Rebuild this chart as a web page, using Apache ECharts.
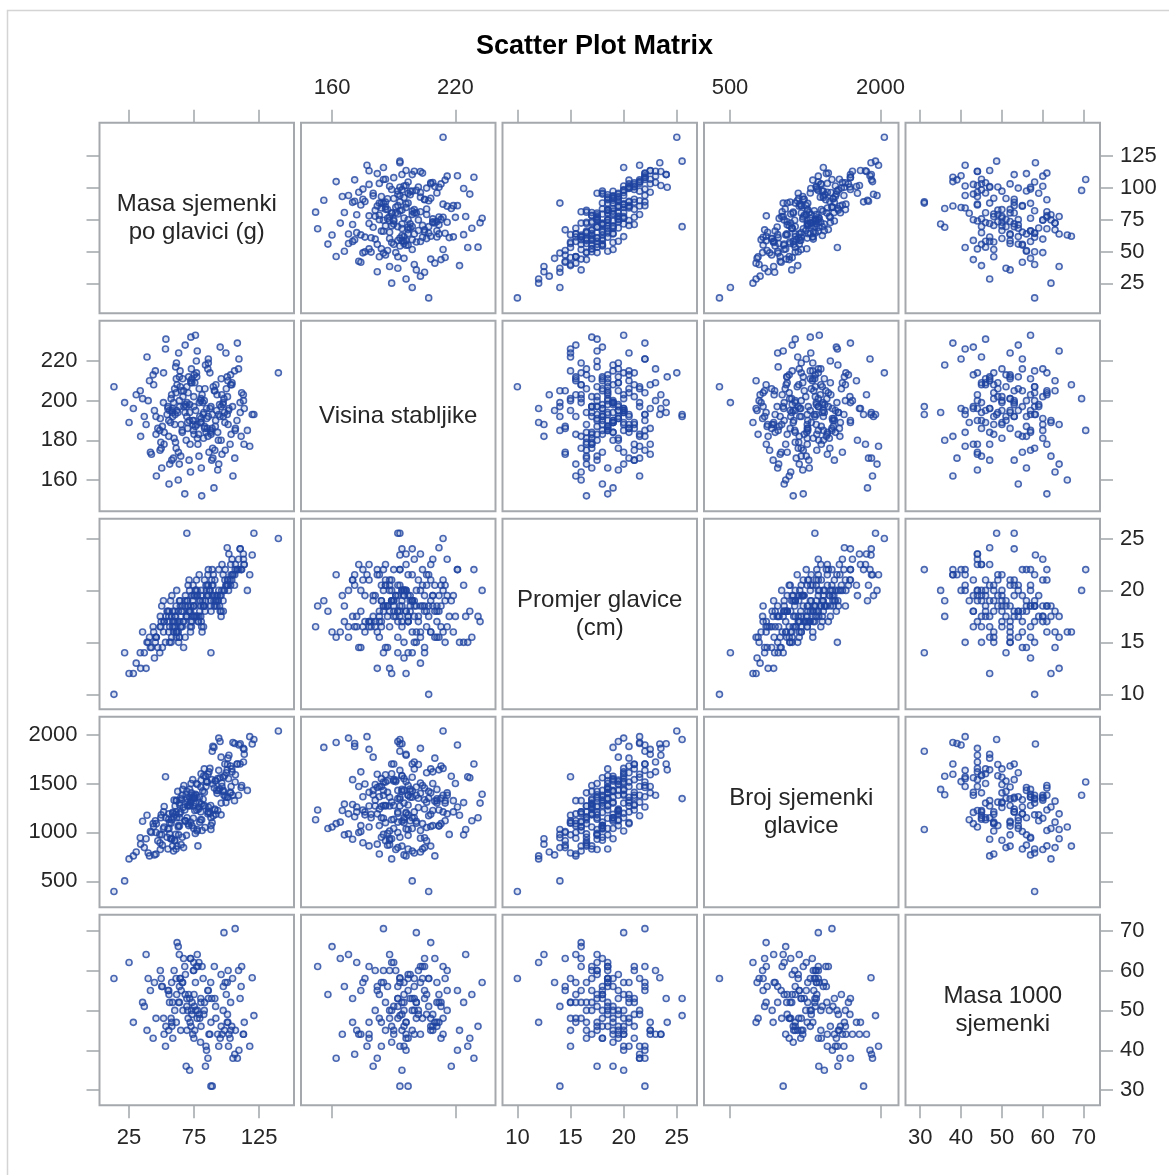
<!DOCTYPE html>
<html><head><meta charset="utf-8">
<script src="https://cdn.jsdelivr.net/npm/echarts@6/dist/echarts.min.js"></script>
<style>html,body{margin:0;padding:0;background:#fff}#c{width:1169px;height:1175px}</style>
</head><body><div id="c"></div>
<script>
// ---------- data (one observation per index) ----------
const varLabels = ["Masa sjemenki\npo glavici (g)", "Visina stabljike", "Promjer glavice\n(cm)", "Broj sjemenki\nglavice", "Masa 1000\nsjemenki"];

const masaSjemenki = [
13.5,21.7,25.1,34.0,28.4,41.5,30.6,38.2,45.3,36.8,
47.2,35.5,52.0,40.8,44.6,56.3,38.9,49.1,33.7,45.8,
55.0,42.3,51.6,60.2,46.1,39.8,53.4,48.7,58.5,44.0,
49.5,61.2,45.8,53.1,57.9,64.0,50.7,43.6,55.8,59.3,
63.8,52.1,58.7,48.9,67.0,55.6,61.5,50.2,57.4,65.1,
54.3,68.2,59.7,51.5,64.8,62.0,70.1,56.2,60.9,49.8,
66.5,57.0,72.3,61.4,54.9,69.0,63.2,58.6,74.5,60.1,
59.2,71.7,64.3,76.0,57.8,67.9,62.5,73.4,55.6,69.2,
74.8,61.3,69.5,58.0,72.6,66.0,79.1,63.7,70.9,60.5,
65.2,77.4,60.8,73.0,68.1,80.3,62.9,71.5,75.6,69.5,
78.5,66.3,74.9,63.0,81.2,70.1,76.8,61.7,72.0,83.4,
68.4,80.6,72.7,86.0,65.9,77.5,71.6,82.3,63.8,75.2,
83.0,70.5,78.8,67.2,85.6,74.0,80.9,64.5,76.3,88.1,
72.4,84.7,78.0,69.6,88.9,76.1,82.5,91.0,74.8,80.0,
87.3,75.0,83.8,71.2,90.6,79.4,85.1,73.5,93.2,81.7,
77.6,89.8,82.0,95.1,74.3,86.5,80.2,92.4,76.9,88.0,
92.7,80.4,88.6,77.1,95.8,84.2,90.3,79.0,97.5,86.0,
83.1,94.6,87.2,99.0,80.5,91.8,85.7,88.0,89.0,96.3,
98.4,86.0,93.7,82.9,101.2,89.5,95.9,84.6,103.5,91.0,
89.3,100.7,94.0,106.1,87.8,97.4,94.0,103.2,91.6,99.5,
104.6,93.2,101.0,96.5,98.0,95.0,108.3,91.4,102.7,99.8,
98.7,109.2,101.5,95.8,111.6,104.9,97.3,100.5,106.8,100.5,
104.0,113.4,101.8,109.5,116.0,113.0,106.3,110.5,103.1,111.2,
108.0,112.9,117.8,104.2,113.6,106.6,119.7,121.0,110.4,139.8];

const visinaStabljike = [
207,199,189,182,196,174,203,188,215,192,
186,201,178,210,195,168,222,191,205,183,
197,173,214,188,162,200,231,185,194,208,
179,204,192,226,170,197,187,213,158,199,
212,184,196,175,205,190,219,166,201,188,
193,228,181,199,172,208,186,195,217,176,
202,189,164,211,196,180,224,192,185,206,
171,198,215,187,203,153,194,209,182,197,
190,176,207,195,232,184,199,168,212,193,
205,188,179,216,194,201,160,190,209,192,
183,211,197,174,203,189,220,195,178,206,
198,166,209,192,185,225,194,181,200,213,
187,204,172,197,216,190,152,207,195,183,
210,191,178,199,186,233,194,175,202,189,
196,183,218,170,205,192,186,211,165,199,
181,207,193,227,188,174,200,195,214,184,
203,189,170,212,197,184,156,206,192,219,
186,198,214,175,191,208,182,197,193,203,
194,221,180,200,188,171,211,196,183,205,
176,202,193,215,185,199,168,208,190,224,
197,184,210,173,201,192,229,187,178,206,
189,216,195,180,204,162,198,212,186,193,
208,178,196,221,185,200,171,194,213,182,
190,203,177,209,196,185,193,193,199,214];

const promjerGlavice = [
10.0,14.0,12.0,12.5,12.0,14.5,13.0,12.5,15.0,14.0,
14.5,16.0,17.0,15.5,13.5,16.5,15.0,17.5,14.0,15.5,
17.0,14.5,16.0,18.0,15.5,15.0,17.5,14.0,16.5,16.0,
16.5,18.5,15.5,15.0,17.5,17.0,14.5,16.5,18.0,16.0,
15.5,17.0,18.0,16.5,14.5,17.5,16.0,18.5,15.0,16.5,
18.0,15.5,17.0,19.0,16.5,16.0,18.5,15.0,17.5,17.0,
17.0,19.0,16.0,15.5,18.0,17.5,15.0,17.0,18.5,16.5,
16.5,18.0,19.0,17.5,15.5,18.5,17.0,19.5,16.0,17.5,
18.5,16.0,17.5,19.5,17.0,16.5,19.0,15.5,18.0,17.5,
18.0,20.0,17.0,16.5,19.0,18.5,16.0,18.0,19.5,25.5,
17.0,18.5,19.5,18.0,16.0,19.0,17.5,20.0,16.5,18.0,
19.5,17.0,18.5,20.5,18.0,17.5,20.0,16.5,19.0,18.5,
18.5,20.5,17.5,17.0,19.5,19.0,16.5,18.5,20.0,18.0,
18.0,19.5,17.0,19.0,20.5,20.0,18.5,21.0,17.5,19.0,
20.0,17.5,19.0,21.0,18.5,18.0,20.5,17.0,19.5,19.0,
19.5,21.5,18.5,18.0,20.5,20.0,17.5,19.5,21.0,19.0,
18.5,20.0,21.0,19.5,17.5,20.5,19.0,21.5,18.0,19.5,
21.0,18.5,20.0,22.0,19.5,19.0,21.5,14.0,22.0,20.0,
20.0,22.0,19.0,18.5,21.0,20.5,18.0,20.0,21.5,19.5,
19.5,21.0,22.0,20.5,18.5,21.5,20.0,22.5,19.0,20.5,
21.5,19.0,20.5,22.5,20.0,19.5,22.0,18.5,21.0,20.5,
21.0,23.0,20.0,19.5,22.0,21.5,19.0,24.1,22.5,20.5,
21.0,22.5,23.5,22.0,20.0,23.0,21.5,24.0,20.5,22.0,
22.0,23.5,21.5,23.0,22.5,22.0,23.4,25.5,24.0,25.0];

const brojSjemenki = [
395,504,729,880,760,1010,800,935,1120,845,
915,1115,1055,760,770,985,1175,825,945,780,
830,1000,1210,920,1090,790,1150,980,860,1060,
1150,830,1000,1570,930,1280,870,1090,1040,810,
1065,1265,1205,895,845,1135,1325,975,1095,875,
950,1120,1330,1040,1210,860,1270,1100,980,1180,
1255,935,1105,1325,1035,1385,975,1195,1145,915,
1160,1360,1300,990,940,1230,1420,1070,1190,970,
1040,1210,1420,1130,1300,950,1360,1190,1070,1270,
1335,1015,1185,1405,1115,1465,1055,1275,1225,1346,
1240,1440,1380,1070,1020,1310,1500,1150,1270,1050,
1120,1290,1500,1210,1380,1030,1440,1270,1150,1350,
1410,1090,1260,1480,1190,1540,1130,1350,1300,1070,
1320,1520,862,1150,1100,1390,1580,1230,1350,1130,
1195,1365,1575,1285,1455,1105,1515,1345,1225,1425,
1490,1170,1340,1560,1270,1620,1210,1430,1380,1150,
1400,1600,1540,1230,1180,1470,1870,1310,1430,1210,
1275,1445,1655,1365,1535,1185,1595,1030,1831,1505,
1580,1260,1430,1650,1360,1880,1300,1520,1470,1240,
1495,1695,1635,1325,1275,1565,1965,1405,1525,1305,
1380,1550,1760,1470,1380,1930,1700,1530,1410,1610,
1700,1380,1550,1770,1480,1920,1420,1640,1590,1360,
1650,1850,1790,1895,1430,1720,1910,1908,1680,1460,
1700,1860,1980,1620,1800,1516,1905,1950,1700,2038];

const masa1000 = [
58,null,62,null,47,55,null,64,null,51,
null,52,44,null,57,null,45,60,null,48,
55,null,48,50,null,58,46,null,52,null,
null,58,null,41,47,null,56,43,54,null,
52,null,43,null,63,45,null,56,48,null,
null,54,60,null,45,67,null,52,null,58,
50,null,63,47,null,36,52,null,60,null,
null,53,58,null,57,61,null,49,55,null,
62,null,51,46,null,57,null,64,54,null,
55,48,null,50,null,52,66,null,45,53,
null,57,43,null,61,50,null,54,47,null,
59,null,46,53,null,64,35,null,56,51,
null,48,62,null,55,44,null,58,50,null,
63,null,61,45,null,57,49,null,60,42,
null,54,36,null,61,48,null,52,44,null,
50,null,58,43,null,44,53,null,61,47,
null,46,53,null,59,41,null,49,56,null,
52,null,44,57,null,48,38,31,31,null,
45,55,null,50,60,null,46,40,null,53,
null,49,41,null,57,50,null,45,51,null,
58,null,47,44,69.5,null,38,null,43,54,
null,60,41,null,61,38,null,47,45,57,
46,null,44,40,null,44,39,null,52,56,
null,44,41,null,47,70.5,58.2,48.7,53,null];

const tickX = [[25,75,125],[160,220],[10,15,20,25],[500,2000],[30,40,50,60,70]];
const tickY = [[25,50,75,100,125],[160,180,200,220],[10,15,20,25],[500,1000,1500,2000],[30,40,50,60,70]];

// ---------- axis scale ranges & layout ----------
const rangeX = [[2.4,151.8],[144.9,239.5],[8.6,26.9],[241,2179],[26.4,74]];
const rangeY = [[1.4,151.2],[144.2,240.3],[8.56,26.9],[234,2184],[26.2,74]];
const L0 = 99.5, T0 = 122.7, PX = 201.5, PY = 198, W = 194.5, H = 190.6;
const FONT = '"Liberation Sans", Arial, sans-serif';
const TXT = '#262626', TICK = '#a3a7ab', BORDER = '#a5a9ad', MARK = '#1f43a0';
const plain = v => String(v);

const vars = [masaSjemenki, visinaStabljike, promjerGlavice, brojSjemenki, masa1000];
const n = 5;
const grids = [], xAxes = [], yAxes = [], series = [], graphics = [];

graphics.push({type:'rect', shape:{x:7.5, y:10.5, width:1200, height:1200}, style:{fill:'none', stroke:'#d4d4d4', lineWidth:1.5}, silent:true});
graphics.push({type:'text', x:594.5, y:46.5, style:{text:'Scatter Plot Matrix', font:'bold 27px ' + FONT, fill:'#000', textAlign:'center', textVerticalAlign:'middle', align:'center', verticalAlign:'middle'}, silent:true});

for (let r = 0; r < n; r++) {
  for (let c = 0; c < n; c++) {
    const k = r * n + c;
    grids.push({left: L0 + c * PX, top: T0 + r * PY, width: W, height: H, show: true, borderColor: BORDER, borderWidth: 2, backgroundColor: '#fff', containLabel: false});
    const xShow = (r === 0 || r === n - 1);
    const xLab = (r === 0 && (c === 1 || c === 3)) || (r === n - 1 && (c === 0 || c === 2 || c === 4));
    xAxes.push({
      type: 'value', gridIndex: k, min: rangeX[c][0], max: rangeX[c][1],
      show: xShow, position: r === 0 ? 'top' : 'bottom',
      axisLine: {show: false, onZero: false},
      axisTick: {show: true, length: 13, inside: false, customValues: tickX[c], lineStyle: {color: TICK, width: 1.5}},
      axisLabel: {show: xLab, customValues: tickX[c], formatter: plain, margin: r === 0 ? 24 : 22, fontSize: 22, fontFamily: FONT, color: TXT},
      splitLine: {show: false}
    });
    const yShow = (c === 0 || c === n - 1);
    const yLab = (c === 0 && (r === 1 || r === 3)) || (c === n - 1 && (r === 0 || r === 2 || r === 4));
    yAxes.push({
      type: 'value', gridIndex: k, min: rangeY[r][0], max: rangeY[r][1],
      show: yShow, position: c === 0 ? 'left' : 'right',
      axisLine: {show: false, onZero: false},
      axisTick: {show: true, length: 13, inside: false, customValues: tickY[r], lineStyle: {color: TICK, width: 1.5}},
      axisLabel: {show: yLab, customValues: tickY[r], formatter: plain, margin: c === 0 ? 22 : 20, fontSize: 22, fontFamily: FONT, color: TXT},
      splitLine: {show: false}
    });
    if (r === c) {
      graphics.push({type:'text', x: L0 + c * PX + W / 2, y: T0 + r * PY + H / 2,
        style:{text: varLabels[r], font: '24px ' + FONT, fill: TXT, lineHeight: 28, textAlign:'center', textVerticalAlign:'middle', align:'center', verticalAlign:'middle'}, silent:true});
    } else {
      const xs = vars[c], ys = vars[r], data = [];
      for (let i = 0; i < xs.length; i++) {
        if (xs[i] != null && ys[i] != null) data.push([xs[i], ys[i]]);
      }
      series.push({type: 'scatter', xAxisIndex: k, yAxisIndex: k, data: data, symbol: 'circle', symbolSize: 6,
        itemStyle: {color: 'rgba(31,67,160,0.18)', borderColor: MARK, borderWidth: 1.6}, silent: true, animation: false});
    }
  }
}

const chart = echarts.init(document.getElementById('c'), null, {renderer: 'canvas'});
chart.setOption({animation: false, backgroundColor: '#fff', grid: grids, xAxis: xAxes, yAxis: yAxes, series: series, graphic: graphics});
</script></body></html>
